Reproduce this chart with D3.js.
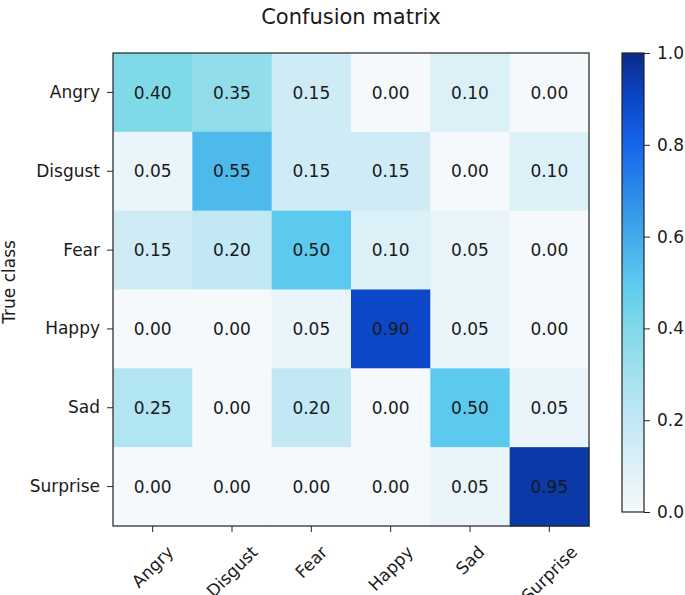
<!DOCTYPE html>
<html>
<head>
<meta charset="utf-8">
<script src="https://cdn.jsdelivr.net/npm/d3@7"></script>
<style>
    body { margin: 0; background: white; }
    svg { font-family: 'DejaVu Sans', sans-serif; }
    .tick text { fill: #1a1a1a; }
</style>
</head>
<body>
<div id="chart"></div>
<script>
var classes = ['Angry', 'Disgust', 'Fear', 'Happy', 'Sad', 'Surprise']

// rows = true class, columns = predicted class
var matrix = [
    [0.40, 0.35, 0.15, 0.00, 0.10, 0.00],
    [0.05, 0.55, 0.15, 0.15, 0.00, 0.10],
    [0.15, 0.20, 0.50, 0.10, 0.05, 0.00],
    [0.00, 0.00, 0.05, 0.90, 0.05, 0.00],
    [0.25, 0.00, 0.20, 0.00, 0.50, 0.05],
    [0.00, 0.00, 0.00, 0.00, 0.05, 0.95]
]

var colorbarTicks = [0.0, 0.2, 0.4, 0.6, 0.8, 1.0]

var layout = {
    width: 685,
    height: 595,
    fontSize: 17,
    plot: { left: 113, top: 53, right: 589, bottom: 526 },
    bar: { left: 622, right: 644, top: 53, bottom: 512 }
}

var color = d3.scaleLinear()
    .domain([0, 0.1, 0.2, 0.3, 0.4, 0.5, 0.6, 0.7, 0.8, 0.9, 1.0])
    .range(['#f5f9fc', '#dcf0f7', '#c2e8f4', '#a2e1ef', '#80d9e9', '#5ccaee', '#40abea', '#2a89e8', '#1566ea', '#0b47c8', '#0a2a86'])
    .clamp(true)

var svg = d3.select('#chart').append('svg')
    .attr('width', layout.width)
    .attr('height', layout.height)

var x = d3.scaleBand().domain(classes).range([layout.plot.left, layout.plot.right])
var y = d3.scaleBand().domain(classes).range([layout.plot.top, layout.plot.bottom])

// cells
var cells = []
matrix.forEach(function (row, i) {
    row.forEach(function (v, j) {
        cells.push({ row: classes[i], col: classes[j], value: v })
    })
})

svg.append('g').selectAll('rect')
    .data(cells)
    .enter().append('rect')
    .attr('x', function (d) { return x(d.col) })
    .attr('y', function (d) { return y(d.row) })
    .attr('width', x.bandwidth() + 0.5)
    .attr('height', y.bandwidth() + 0.5)
    .attr('fill', function (d) { return color(d.value) })

svg.append('g').selectAll('text')
    .data(cells)
    .enter().append('text')
    .attr('x', function (d) { return x(d.col) + x.bandwidth() / 2 })
    .attr('y', function (d) { return y(d.row) + y.bandwidth() / 2 })
    .attr('text-anchor', 'middle')
    .attr('dy', '0.36em')
    .attr('font-size', layout.fontSize + 'px')
    .attr('fill', '#1a1a1a')
    .text(function (d) { return d.value.toFixed(2) })

// frame
svg.append('rect')
    .attr('x', layout.plot.left)
    .attr('y', layout.plot.top)
    .attr('width', layout.plot.right - layout.plot.left)
    .attr('height', layout.plot.bottom - layout.plot.top)
    .attr('fill', 'none')
    .attr('stroke', '#222')
    .attr('stroke-width', 1.2)

// y axis
var yAxis = svg.append('g')
    .attr('transform', 'translate(' + layout.plot.left + ',0)')
    .call(d3.axisLeft(y).tickSize(6).tickPadding(7))
yAxis.select('.domain').remove()
yAxis.selectAll('.tick line').attr('stroke', '#222')
yAxis.selectAll('.tick text').attr('font-size', layout.fontSize + 'px').attr('font-family', 'DejaVu Sans')

// x axis with rotated labels centred under the ticks
var xAxis = svg.append('g')
    .attr('transform', 'translate(0,' + layout.plot.bottom + ')')
    .call(d3.axisBottom(x).tickSize(6))
xAxis.select('.domain').remove()
xAxis.selectAll('.tick line').attr('stroke', '#222')
xAxis.selectAll('.tick text')
    .attr('font-size', layout.fontSize + 'px')
    .attr('font-family', 'DejaVu Sans')
    .attr('text-anchor', 'middle')
    .attr('dy', '0.35em')
    .each(function () {
        var w = this.getComputedTextLength()
        var boxH = (w + layout.fontSize) * Math.SQRT1_2
        d3.select(this)
            .attr('y', 0)
            .attr('transform', 'translate(0,' + (17 + boxH / 2) + ') rotate(-45)')
    })

// axis label and title
svg.append('text')
    .attr('transform', 'translate(15,282) rotate(-90)')
    .attr('text-anchor', 'middle')
    .attr('font-size', layout.fontSize + 'px')
    .attr('fill', '#1a1a1a')
    .text('True class')

svg.append('text')
    .attr('x', (layout.plot.left + layout.plot.right) / 2)
    .attr('y', 24)
    .attr('text-anchor', 'middle')
    .attr('font-size', '21px')
    .attr('fill', '#1a1a1a')
    .text('Confusion matrix')

// colorbar
var defs = svg.append('defs')
var grad = defs.append('linearGradient')
    .attr('id', 'cbar')
    .attr('x1', 0).attr('y1', 1).attr('x2', 0).attr('y2', 0)
grad.selectAll('stop')
    .data(d3.range(0, 1.0001, 0.05))
    .enter().append('stop')
    .attr('offset', function (d) { return d })
    .attr('stop-color', function (d) { return color(d) })

svg.append('rect')
    .attr('x', layout.bar.left)
    .attr('y', layout.bar.top)
    .attr('width', layout.bar.right - layout.bar.left)
    .attr('height', layout.bar.bottom - layout.bar.top)
    .attr('fill', 'url(#cbar)')
    .attr('stroke', '#222')
    .attr('stroke-width', 1.2)

var cy = d3.scaleLinear().domain([0, 1]).range([layout.bar.bottom, layout.bar.top])
var cAxis = svg.append('g')
    .attr('transform', 'translate(' + layout.bar.right + ',0)')
    .call(d3.axisRight(cy).tickValues(colorbarTicks).tickFormat(d3.format('.1f')).tickSize(6).tickPadding(7))
cAxis.select('.domain').remove()
cAxis.selectAll('.tick line').attr('stroke', '#222')
cAxis.selectAll('.tick text').attr('font-size', layout.fontSize + 'px').attr('font-family', 'DejaVu Sans')
</script>
</body>
</html>
